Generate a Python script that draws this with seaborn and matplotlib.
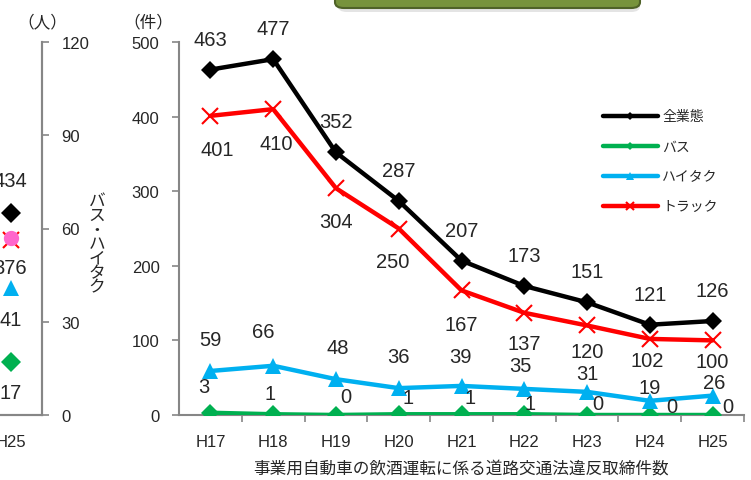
import matplotlib
matplotlib.use("Agg")
import matplotlib.pyplot as plt
from matplotlib.patches import FancyBboxPatch
import seaborn as sns
import pandas as pd

years = ["H17", "H18", "H19", "H20", "H21", "H22", "H23", "H24", "H25"]
all_types = [463, 477, 352, 287, 207, 173, 151, 121, 126]
bus = [3, 1, 0, 1, 1, 1, 0, 0, 0]
taxi = [59, 66, 48, 36, 39, 35, 31, 19, 26]
truck = [401, 410, 304, 250, 167, 137, 120, 102, 100]

# left (cut off) panel, only H25 is visible
left_year = ["H25"]
left_all = [434]
left_truck = [376]
left_taxi = [41]
left_bus = [17]
left_pink = [57]

sns.set_theme(style="white")
plt.rcParams["font.family"] = ["Liberation Sans", "Noto Sans CJK JP"]

W, H = 751, 481
fig = plt.figure(figsize=(W / 100, H / 100), dpi=100)

GRAY = "#868686"
BLACK = "#000000"
GREEN = "#00B050"
BLUE = "#00B0F0"
RED = "#FF0000"
PINK = "#FF66CC"


def px_axes(x0, y0, x1, y1):
    return fig.add_axes([x0 / W, 1 - y1 / H, (x1 - x0) / W, (y1 - y0) / H])


# ---------------- main panel ----------------
ax = px_axes(179, 43, 744, 416)
df = pd.DataFrame({"year": years, "全業態": all_types, "バス": bus,
                   "ハイタク": taxi, "トラック": truck})

styles = {
    "全業態": dict(color=BLACK, marker="D", markersize=9, mew=0),
    "バス": dict(color=GREEN, marker="D", markersize=9, mew=0),
    "ハイタク": dict(color=BLUE, marker="^", markersize=11, mew=0),
    "トラック": dict(color=RED, marker="x", markersize=12, mew=1.5),
}
for name in ["バス", "ハイタク", "トラック", "全業態"]:
    st = styles[name]
    sns.lineplot(data=df, x="year", y=name, ax=ax, linewidth=3.2,
                 label=name, zorder=3, mec=st["color"], **st)

ax.set_xlim(-0.5, 8.5)
ax.set_ylim(0, 500)
ax.set_yticks([0, 100, 200, 300, 400, 500])
ax.set_xticks(range(len(years)))
ax.set_xticklabels(years)
ax.set_xticks([i + 0.5 for i in range(len(years))], minor=True)
ax.tick_params(axis="y", which="major", length=5, width=1.2, color=GRAY,
               labelsize=12, pad=9, left=True)
ax.tick_params(axis="x", which="major", length=0, labelsize=12, pad=14)
ax.tick_params(axis="x", which="minor", length=5, width=1.2, color=GRAY,
               bottom=True, direction="out")
for s in ["top", "right"]:
    ax.spines[s].set_visible(False)
for s in ["left", "bottom"]:
    ax.spines[s].set_color(GRAY)
    ax.spines[s].set_linewidth(1.5)
ax.set_ylabel("")
ax.set_xlabel("事業用自動車の飲酒運転に係る道路交通法違反取締件数", fontsize=12,
              labelpad=7)

LBL = 14.5
for i, v in enumerate(all_types):
    ax.annotate(str(v), (i, v), xytext=(0, 22), textcoords="offset points",
                ha="center", va="center", fontsize=LBL)
truck_off = [(5, -24.5), (2, -25), (0, -24), (-4, -24), (0, -24.5),
             (0, -22), (0, -19), (-2, -15.5), (0, -15.5)]
for i, v in enumerate(truck):
    dx, dy = truck_off[i]
    ax.annotate(str(v), (i, v), xytext=(dx, dy), textcoords="offset points",
                ha="center", va="center", fontsize=LBL)
taxi_off = [(0, 23), (-7, 24.5), (1, 23), (0, 23), (-1, 21.5),
            (-3, 17), (0, 13), (0, 9.5), (1, 9.5)]
for i, v in enumerate(taxi):
    dx, dy = taxi_off[i]
    ax.annotate(str(v), (i, v), xytext=(dx, dy), textcoords="offset points",
                ha="center", va="center", fontsize=LBL)
bus_off = [(-5, 19), (-2, 15), (7, 13), (7, 12), (6, 12),
           (4, 8), (8, 8), (16, 6), (11, 6)]
for i, v in enumerate(bus):
    dx, dy = bus_off[i]
    ax.annotate(str(v), (i, v), xytext=(dx, dy), textcoords="offset points",
                ha="center", va="center", fontsize=LBL)

handles, labels = ax.get_legend_handles_labels()
order = [labels.index(n) for n in ["全業態", "バス", "ハイタク", "トラック"]]
leg = ax.legend([handles[k] for k in order], [labels[k] for k in order],
                loc="upper left", bbox_to_anchor=((590 - 179) / 565, 1 - (98 - 43) / 373),
                frameon=False, fontsize=10, handlelength=4.0, handletextpad=0.3,
                labelspacing=1.15, markerscale=0.5)

fig.text(148 / W, 1 - 22 / H, "（件）", fontsize=12, ha="center", va="center")

# ---------------- left cut-off panel ----------------
axl = px_axes(-21, 43, 42, 416)
axr = axl.twinx()
axl.set_xlim(-0.5, 0.5)
axl.set_ylim(0, 800)
axr.set_ylim(0, 120)
axl.plot(left_year, left_all, marker="D", color=BLACK, markersize=10, mew=0, ls="none")
axl.plot(left_year, left_truck, marker="x", color=RED, markersize=12, mew=1.5, ls="none")
axr.plot(left_year, left_pink, marker="o", color=PINK, markersize=11, mew=0, ls="none")
axr.plot(left_year, left_taxi, marker="^", color=BLUE, markersize=12, mew=0, ls="none")
axr.plot(left_year, left_bus, marker="D", color=GREEN, markersize=10, mew=0, ls="none")
axl.annotate(str(left_all[0]), (0, left_all[0]), xytext=(0, 23),
             textcoords="offset points", ha="center", va="center", fontsize=LBL)
axl.annotate(str(left_truck[0]), (0, left_truck[0]), xytext=(0, -20),
             textcoords="offset points", ha="center", va="center", fontsize=LBL)
axr.annotate(str(left_taxi[0]), (0, left_taxi[0]), xytext=(0, -23),
             textcoords="offset points", ha="center", va="center", fontsize=LBL)
axr.annotate(str(left_bus[0]), (0, left_bus[0]), xytext=(0, -22),
             textcoords="offset points", ha="center", va="center", fontsize=LBL)

axl.set_yticks([])
axl.set_xticks([0])
axl.set_xticklabels(left_year)
axl.tick_params(axis="x", length=0, labelsize=12, pad=14)
axr.set_yticks([0, 30, 60, 90, 120])
axr.tick_params(axis="y", length=5, width=1.2, color=GRAY, labelsize=12,
                pad=9, right=True)
for a in (axl, axr):
    for s in ["top", "left"]:
        a.spines[s].set_visible(False)
    a.spines["right"].set_color(GRAY)
    a.spines["right"].set_linewidth(1.5)
    a.spines["bottom"].set_color(GRAY)
    a.spines["bottom"].set_linewidth(1.5)
axr.set_ylabel("")

fig.text(97 / W, 1 - 245 / H, "\n".join("バス・ハイタク"), fontsize=12,
         ha="center", va="center", linespacing=0.95)
fig.text(42 / W, 1 - 22 / H, "（人）", fontsize=12, ha="center", va="center")

# ---------------- green title box (cut off at top) ----------------
shadow = FancyBboxPatch((338 / W, 1 - 13 / H), (640 - 338) / W, 30 / H,
                        boxstyle="round,pad=0,rounding_size=0.012",
                        transform=fig.transFigure, facecolor="#E4E4E4",
                        edgecolor="none", zorder=0)
box = FancyBboxPatch((335 / W, 1 - 9 / H), (640 - 335) / W, 30 / H,
                     boxstyle="round,pad=0,rounding_size=0.012",
                     transform=fig.transFigure, facecolor="#77933C",
                     edgecolor="#4F6228", linewidth=1.5, zorder=1)
fig.patches.extend([shadow, box])

fig.savefig("out.png", dpi=100)
